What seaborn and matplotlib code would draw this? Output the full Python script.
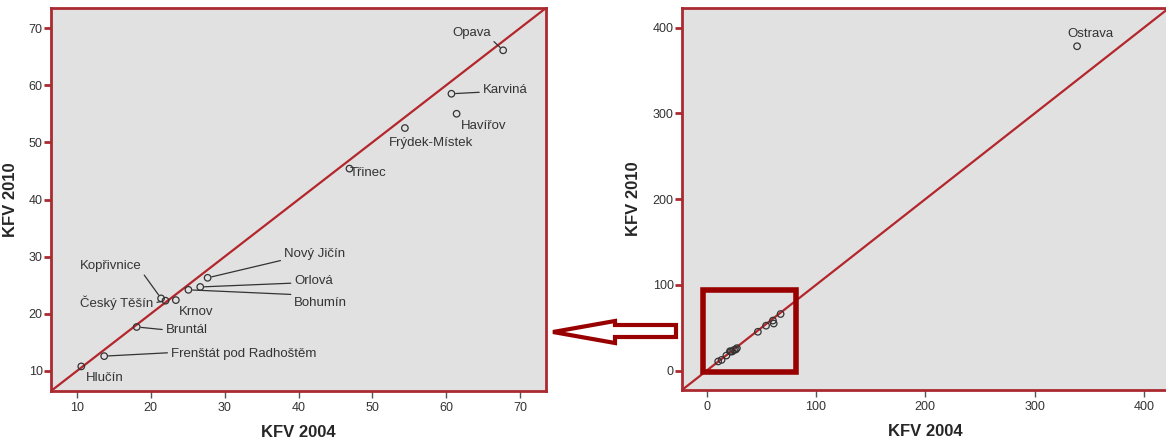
import pandas as pd
import numpy as np
import matplotlib
matplotlib.use('Agg')
import matplotlib.pyplot as plt
from matplotlib.patches import Rectangle, Polygon
import seaborn as sns

sns.set_style('white')
plt.rcParams['font.family'] = ['Liberation Sans', 'DejaVu Sans']

# KFV values
cities = ['Opava', 'Karviná', 'Havířov', 'Frýdek-Místek', 'Třinec', 'Nový Jičín',
          'Orlová', 'Bohumín', 'Krnov', 'Kopřivnice', 'Český Těšín', 'Bruntál',
          'Frenštát pod Radhoštěm', 'Hlučín', 'Ostrava']
kfv_2004 = [67.7, 60.7, 61.4, 54.4, 46.9, 27.7, 26.7, 25.1, 23.4, 21.4, 22.0, 18.1, 13.7, 10.6, 338.9]
kfv_2010 = [66.1, 58.5, 55.0, 52.5, 45.4, 26.3, 24.7, 24.2, 22.4, 22.7, 22.3, 17.7, 12.6, 10.8, 378.4]

df = pd.DataFrame({'city': cities, 'KFV 2004': kfv_2004, 'KFV 2010': kfv_2010})

# label placement (text x, text y, ha, leader relpos or None)
zoom_labels = {
    'Opava': (63.4, 69.2, 'center', (1, 0)),
    'Karviná': (64.9, 59.1, 'left', (0, 0.35)),
    'Havířov': (62.0, 52.8, 'left', None),
    'Frýdek-Místek': (52.2, 49.9, 'left', None),
    'Třinec': (47.0, 44.6, 'left', None),
    'Nový Jičín': (38.0, 30.5, 'left', (0, 0)),
    'Orlová': (39.4, 25.8, 'left', (0, 0.3)),
    'Bohumín': (39.4, 21.9, 'left', (0, 1.2)),
    'Krnov': (23.8, 20.3, 'left', None),
    'Kopřivnice': (18.8, 28.4, 'right', (1, 0)),
    'Český Těšín': (20.4, 21.9, 'right', (1, 0.5)),
    'Bruntál': (22.0, 17.2, 'left', (0, 0.5)),
    'Frenštát pod Radhoštěm': (22.7, 13.0, 'left', (0, 0.6)),
    'Hlučín': (11.2, 8.8, 'left', None),
}
full_labels = {'Ostrava': (351, 392.6, 'center', None)}

frame_red = '#aa2a30'
line_red = '#b3262c'
box_red = '#990000'
W, H = 1166, 442


def style_axes(ax, lims, ticks, ylab_x):
    ax.set_facecolor('#e1e1e1')
    ax.set_xlim(lims)
    ax.set_ylim(lims)
    ax.set_xticks(ticks)
    ax.set_yticks(ticks)
    for sp in ax.spines.values():
        sp.set_color(frame_red)
        sp.set_linewidth(2)
        sp.set_visible(True)
    ax.tick_params(axis='y', left=True, color=frame_red, width=2, length=5,
                   labelcolor='#333333', labelsize=9, pad=1)
    ax.tick_params(axis='x', bottom=True, color='#555555', width=1, length=5,
                   labelcolor='#333333', labelsize=9, pad=3)
    ax.axline((0, 0), (1, 1), color=line_red, lw=1.6, zorder=1)


def set_titles(ax, ylab_x):
    ax.set_xlabel('KFV 2004', fontsize=12, fontweight='bold', labelpad=8)
    ax.set_ylabel('KFV 2010', fontsize=12, fontweight='bold')
    ax.yaxis.set_label_coords(ylab_x, 0.5)


def add_labels(ax, labels):
    for name, (tx, ty, ha, rel) in labels.items():
        row = df[df.city == name].iloc[0]
        xy = (row['KFV 2004'], row['KFV 2010'])
        if rel is None:
            ax.text(tx, ty, name, ha=ha, va='center', fontsize=9.5, color='#333333')
        else:
            ax.annotate(name, xy=xy, xytext=(tx, ty), ha=ha, va='center',
                        fontsize=9.5, color='#333333',
                        arrowprops=dict(arrowstyle='-', color='#333333', lw=0.9,
                                        shrinkA=0, shrinkB=3, relpos=rel))


fig = plt.figure(figsize=(11.66, 4.42), dpi=100)
ax1 = fig.add_axes([51 / W, 1 - 391 / H, 495 / W, 383 / H])
ax2 = fig.add_axes([682 / W, 1 - 390 / H, 487 / W, 382 / H])

# zoomed panel
style_axes(ax1, (6.5, 73.5), np.arange(10, 80, 10), -0.067)
sns.scatterplot(data=df[df.city != 'Ostrava'], x='KFV 2004', y='KFV 2010', ax=ax1,
                s=22, facecolor='none', edgecolor='#333333', linewidth=0.9, zorder=3)
add_labels(ax1, zoom_labels)
set_titles(ax1, -0.067)

# full panel
style_axes(ax2, (-22.5, 423), np.arange(0, 500, 100), -0.084)
sns.scatterplot(data=df, x='KFV 2004', y='KFV 2010', ax=ax2,
                s=22, facecolor='none', edgecolor='#333333', linewidth=0.9, zorder=3)
add_labels(ax2, full_labels)
set_titles(ax2, -0.084)
ax2.add_patch(Rectangle((-3.5, -2), 85, 96.5, fill=False, edgecolor=box_red,
                        lw=4, zorder=4))

# outline arrow pointing from the box to the zoomed panel
arrow_px = [(553, 332), (615, 321), (615, 325), (676, 325), (676, 337),
            (615, 337), (615, 343)]
arrow_pts = [(x / W, 1 - y / H) for x, y in arrow_px]
fig.patches.append(Polygon(arrow_pts, closed=True, transform=fig.transFigure,
                           facecolor='white', edgecolor=box_red, lw=3,
                           joinstyle='miter', figure=fig))

fig.savefig('out.png', dpi=100)
